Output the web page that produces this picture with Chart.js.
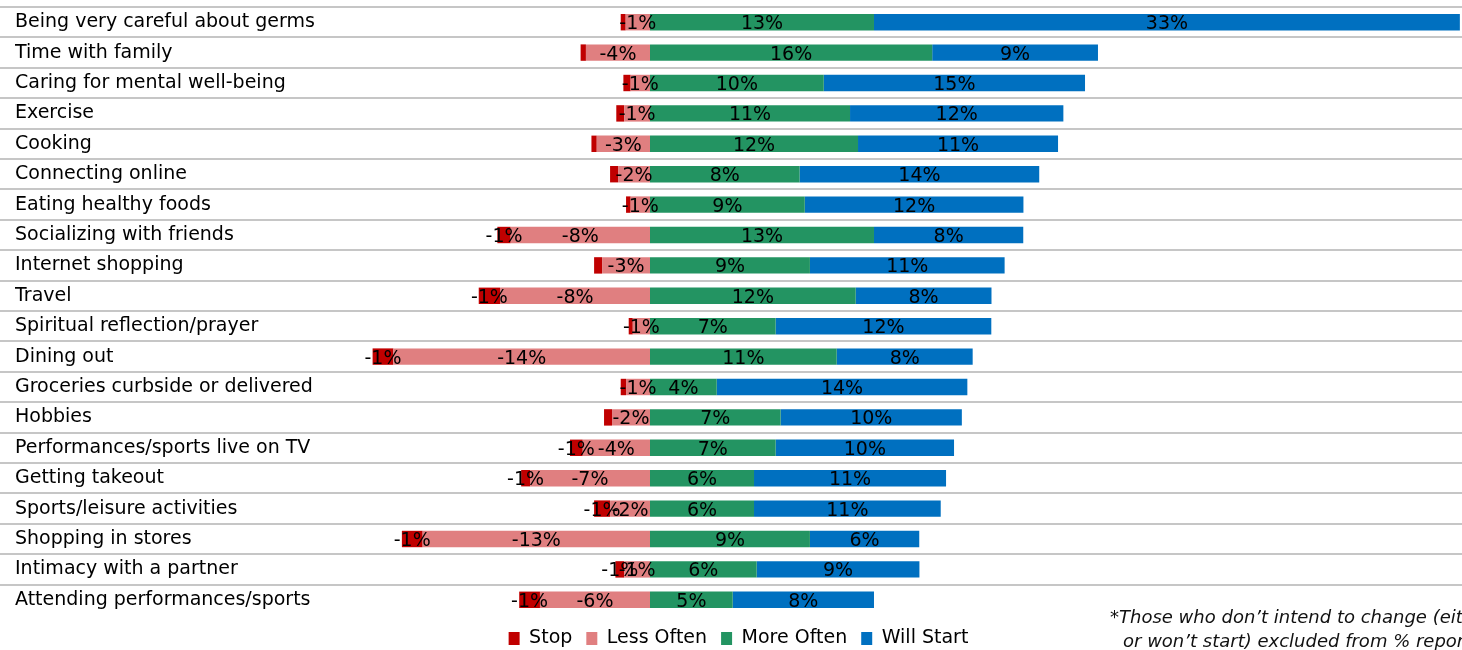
<!DOCTYPE html>
<html>
<head>
<meta charset="utf-8">
<title>Behaviour changes</title>
<script src="https://cdn.jsdelivr.net/npm/chart.js@4"></script>
<style>
  html, body { margin: 0; padding: 0; background: #fff; overflow: hidden; }
  #wrap { position: relative; width: 1462px; height: 650px; overflow: hidden; }
  #note {
    position: absolute; left: 1110px; top: 605px;
    font: italic 18px "DejaVu Sans", sans-serif; line-height: 24px;
    color: #111; white-space: nowrap;
  }
  #note span { display: block; }
  #note span + span { padding-left: 13px; }
</style>
</head>
<body>
<div id="wrap">
  <canvas id="myChart" width="1462" height="650"></canvas>
  <div id="note">
    <span>*Those who don’t intend to change (either won’t stop</span>
    <span>or won’t start) excluded from % reported</span>
  </div>
</div>
<script>
var categories = [
    "Being very careful about germs",
    "Time with family",
    "Caring for mental well-being",
    "Exercise",
    "Cooking",
    "Connecting online",
    "Eating healthy foods",
    "Socializing with friends",
    "Internet shopping",
    "Travel",
    "Spiritual reflection/prayer",
    "Dining out",
    "Groceries curbside or delivered",
    "Hobbies",
    "Performances/sports live on TV",
    "Getting takeout",
    "Sports/leisure activities",
    "Shopping in stores",
    "Intimacy with a partner",
    "Attending performances/sports"
];

var seriesNames = ["Stop", "Less Often", "More Often", "Will Start"];

// % of respondents, negatives = doing it less / stopping
var stopValues      = [-0.28, -0.30, -0.41, -0.45, -0.30, -0.45, -0.26, -0.75, -0.45, -1.20,
                       -0.23, -1.17, -0.30, -0.45, -0.72, -0.50, -0.90, -1.17, -0.50, -1.17];
var lessOftenValues = [-1.37, -3.61, -1.09, -1.45, -3.00, -1.80, -1.09, -7.85, -2.70, -8.45,
                       -0.97, -14.46, -1.35, -2.14, -3.79, -6.76, -2.25, -12.81, -1.45, -6.20];
var moreOftenValues = [12.62, 15.90, 9.79, 11.27, 11.72, 8.43, 8.72, 12.62, 9.01, 11.59,
                       7.08, 10.52, 3.76, 7.36, 7.08, 5.86, 5.86, 9.01, 6.01, 4.66];
var willStartValues = [33.01, 9.34, 14.72, 12.02, 11.27, 13.50, 12.32, 8.41, 10.97, 7.65,
                       12.15, 7.66, 14.12, 10.21, 10.05, 10.82, 10.52, 6.16, 9.17, 7.96];

var FONT = '"DejaVu Sans", sans-serif';

function pctLabel(v){
    var r = Math.round(Math.abs(v));
    if(r === 0){
        return '';
    }
    return (v < 0 ? '-' : '') + r + '%';
}

// writes the rounded % in the middle of every segment
var segmentLabels = {
    id: 'segmentLabels',
    afterDatasetsDraw: function(chart){
        var ctx = chart.ctx;
        ctx.save();
        ctx.font = '19px ' + FONT;
        ctx.fillStyle = '#000';
        ctx.textAlign = 'center';
        ctx.textBaseline = 'middle';
        chart.data.datasets.forEach(function(ds, i){
            chart.getDatasetMeta(i).data.forEach(function(bar, j){
                var txt = pctLabel(ds.data[j]);
                if(!txt) return;
                var p = bar.getProps(['x', 'y', 'base'], true);
                ctx.fillText(txt, (p.x + p.base) / 2, p.y + 2);
            });
        });
        ctx.restore();
    }
};

function main(){
    new Chart('myChart', {
        type: 'bar',
        data: {
            labels: categories,
            datasets: [
                // less often first so it sits next to zero, stop goes outside
                { label: "Less Often", data: lessOftenValues, backgroundColor: "#E07F80" },
                { label: "Stop",       data: stopValues,      backgroundColor: "#C00000" },
                { label: "More Often", data: moreOftenValues, backgroundColor: "#239462" },
                { label: "Will Start", data: willStartValues, backgroundColor: "#0070C0" }
            ]
        },
        options: {
            indexAxis: 'y',
            responsive: false,
            animation: false,
            barPercentage: 0.54,
            categoryPercentage: 1,
            layout: {
                padding: { top: 7, left: 15, right: 0, bottom: -8 }
            },
            plugins: {
                tooltip: { enabled: false },
                legend: {
                    position: 'bottom',
                    labels: {
                        boxWidth: 11,
                        boxHeight: 13,
                        padding: 14,
                        color: '#000',
                        font: { family: FONT, size: 19 },
                        sort: function(a, b){
                            return seriesNames.indexOf(a.text) - seriesNames.indexOf(b.text);
                        }
                    }
                }
            },
            scales: {
                x: {
                    stacked: true,
                    display: false,
                    min: -18.03,
                    max: 45.75
                },
                y: {
                    stacked: true,
                    border: { display: false },
                    grid: {
                        color: function(c){ return c.type === 'tick' ? '#C6C6C6' : 'rgba(0,0,0,0)'; },
                        lineWidth: 2,
                        drawTicks: true,
                        tickLength: 330
                    },
                    ticks: {
                        crossAlign: 'far',
                        autoSkip: false,
                        color: '#000',
                        font: { family: FONT, size: 19 }
                    },
                    afterFit: function(scale){
                        scale.width = 315;
                        // labels sit mid-row, no need for extra room above/below
                        scale.paddingTop = 0;
                        scale.paddingBottom = 0;
                    }
                }
            }
        },
        plugins: [segmentLabels]
    });
}
main();
</script>
</body>
</html>
